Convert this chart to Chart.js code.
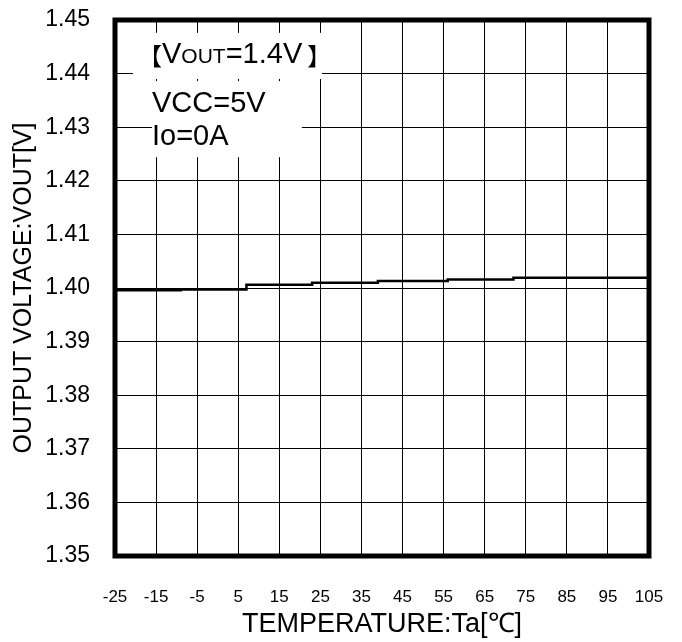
<!DOCTYPE html>
<html>
<head>
<meta charset="utf-8">
<script src="https://cdn.jsdelivr.net/npm/chart.js@4.4.1/dist/chart.umd.min.js"></script>
<style>
    html, body { margin: 0; padding: 0; background: #fff; }
    #wrap { width: 682px; height: 642px; }
</style>
</head>
<body>
<div id="wrap"><canvas id="voutChart" width="682" height="642"></canvas></div>
<script>
// Data (output voltage vs ambient temperature)
const temps = [-25, -9, 7, 23, 39, 56, 72, 89, 105];
const vout = [1.3993, 1.3996, 1.3997, 1.4006, 1.4010, 1.4013, 1.4016, 1.4019, 1.4019];

const xTicks = [-25, -15, -5, 5, 15, 25, 35, 45, 55, 65, 75, 85, 95, 105];
const yTicks = [1.35, 1.36, 1.37, 1.38, 1.39, 1.40, 1.41, 1.42, 1.43, 1.44, 1.45];

const xTitle = 'TEMPERATURE:Ta[℃]';
const yTitle = 'OUTPUT VOLTAGE:VOUT[V]';
const noteLines = ['VCC=5V', 'Io=0A'];

const sans = "'Liberation Sans', Arial, sans-serif";

// White note box in the upper left corner, covers the grid
const notePlugin = {
    id: 'note',
    beforeDatasetsDraw(chart) {
        const { ctx, scales: { x, y } } = chart;
        const px = v => x.getPixelForValue(v);
        const py = v => y.getPixelForValue(v);
        ctx.save();
        ctx.fillStyle = '#fff';
        ctx.fillRect(px(-20.6), py(1.4476), px(25.4) - px(-20.6), py(1.4390) - py(1.4476));
        ctx.fillRect(px(-16.0), py(1.4386), px(20.5) - px(-16.0), py(1.4244) - py(1.4386));

        ctx.fillStyle = '#000';
        ctx.textBaseline = 'alphabetic';
        ctx.textAlign = 'left';
        const x0 = px(-16.0);

        // 【VOUT=1.4V】 with small caps "OUT"
        let cx = x0 + 10;
        const b1 = py(1.4420);
        ctx.font = "24px 'Noto Sans CJK JP'";
        ctx.fillText('【', cx - 24, b1 + 2);
        ctx.font = '29px ' + sans;
        ctx.fillText('V', cx, b1);
        cx += ctx.measureText('V').width;
        ctx.font = '21px ' + sans;
        ctx.fillText('OUT', cx, b1);
        cx += ctx.measureText('OUT').width;
        ctx.font = '29px ' + sans;
        ctx.fillText('=1.4V', cx, b1);
        cx += ctx.measureText('=1.4V').width;
        ctx.font = "24px 'Noto Sans CJK JP'";
        ctx.fillText('】', cx + 5, b1 + 2);

        ctx.font = '29px ' + sans;
        ctx.fillText(noteLines[0], x0, py(1.4328));
        ctx.fillText(noteLines[1], x0, py(1.4267));
        ctx.restore();
    }
};

// Heavy frame round the plot area
const framePlugin = {
    id: 'frame',
    afterDatasetsDraw(chart) {
        const { ctx, chartArea: a } = chart;
        ctx.save();
        ctx.strokeStyle = '#000';
        ctx.lineWidth = 5;
        ctx.strokeRect(a.left, a.top, a.right - a.left, a.bottom - a.top);
        ctx.restore();
    }
};

new Chart(document.getElementById('voutChart'), {
    type: 'line',
    data: {
        datasets: [{
            data: temps.map((t, i) => ({ x: t, y: vout[i] })),
            borderColor: '#000',
            borderWidth: 2.5,
            stepped: 'after',
            pointRadius: 0,
            fill: false,
        }]
    },
    options: {
        responsive: false,
        animation: false,
        layout: { padding: { top: 20, right: 33, left: 0, bottom: 0 } },
        plugins: {
            legend: { display: false },
            tooltip: { enabled: false },
        },
        scales: {
            x: {
                type: 'linear',
                min: -25,
                max: 105,
                afterBuildTicks: s => { s.ticks = xTicks.map(v => ({ value: v })); },
                afterFit: s => {
                    s.height = 86;
                    s.paddingLeft = 0;
                    s.paddingRight = 0;
                },
                grid: { color: '#000', lineWidth: 1, drawTicks: false },
                border: { display: false },
                ticks: {
                    color: '#000',
                    padding: 31,
                    maxRotation: 0,
                    autoSkip: false,
                    font: { family: sans, size: 17 },
                },
                title: {
                    display: true,
                    text: xTitle,
                    color: '#000',
                    font: { family: sans, size: 27, lineHeight: 1 },
                    padding: { top: 0, bottom: 4 },
                },
            },
            y: {
                type: 'linear',
                min: 1.35,
                max: 1.45,
                afterBuildTicks: s => { s.ticks = yTicks.map(v => ({ value: v })); },
                afterFit: s => {
                    s.width = 115;
                    s.paddingTop = 0;
                    s.paddingBottom = 0;
                },
                grid: { color: '#000', lineWidth: 1, drawTicks: false },
                border: { display: false },
                ticks: {
                    color: '#000',
                    padding: 25,
                    autoSkip: false,
                    font: { family: sans, size: 23 },
                    callback: v => v.toFixed(2),
                },
                title: {
                    display: true,
                    text: yTitle,
                    color: '#000',
                    font: { family: sans, size: 25, lineHeight: 1.2 },
                    padding: { top: 9, bottom: 0 },
                },
            },
        },
    },
    plugins: [notePlugin, framePlugin],
});
</script>
</body>
</html>
